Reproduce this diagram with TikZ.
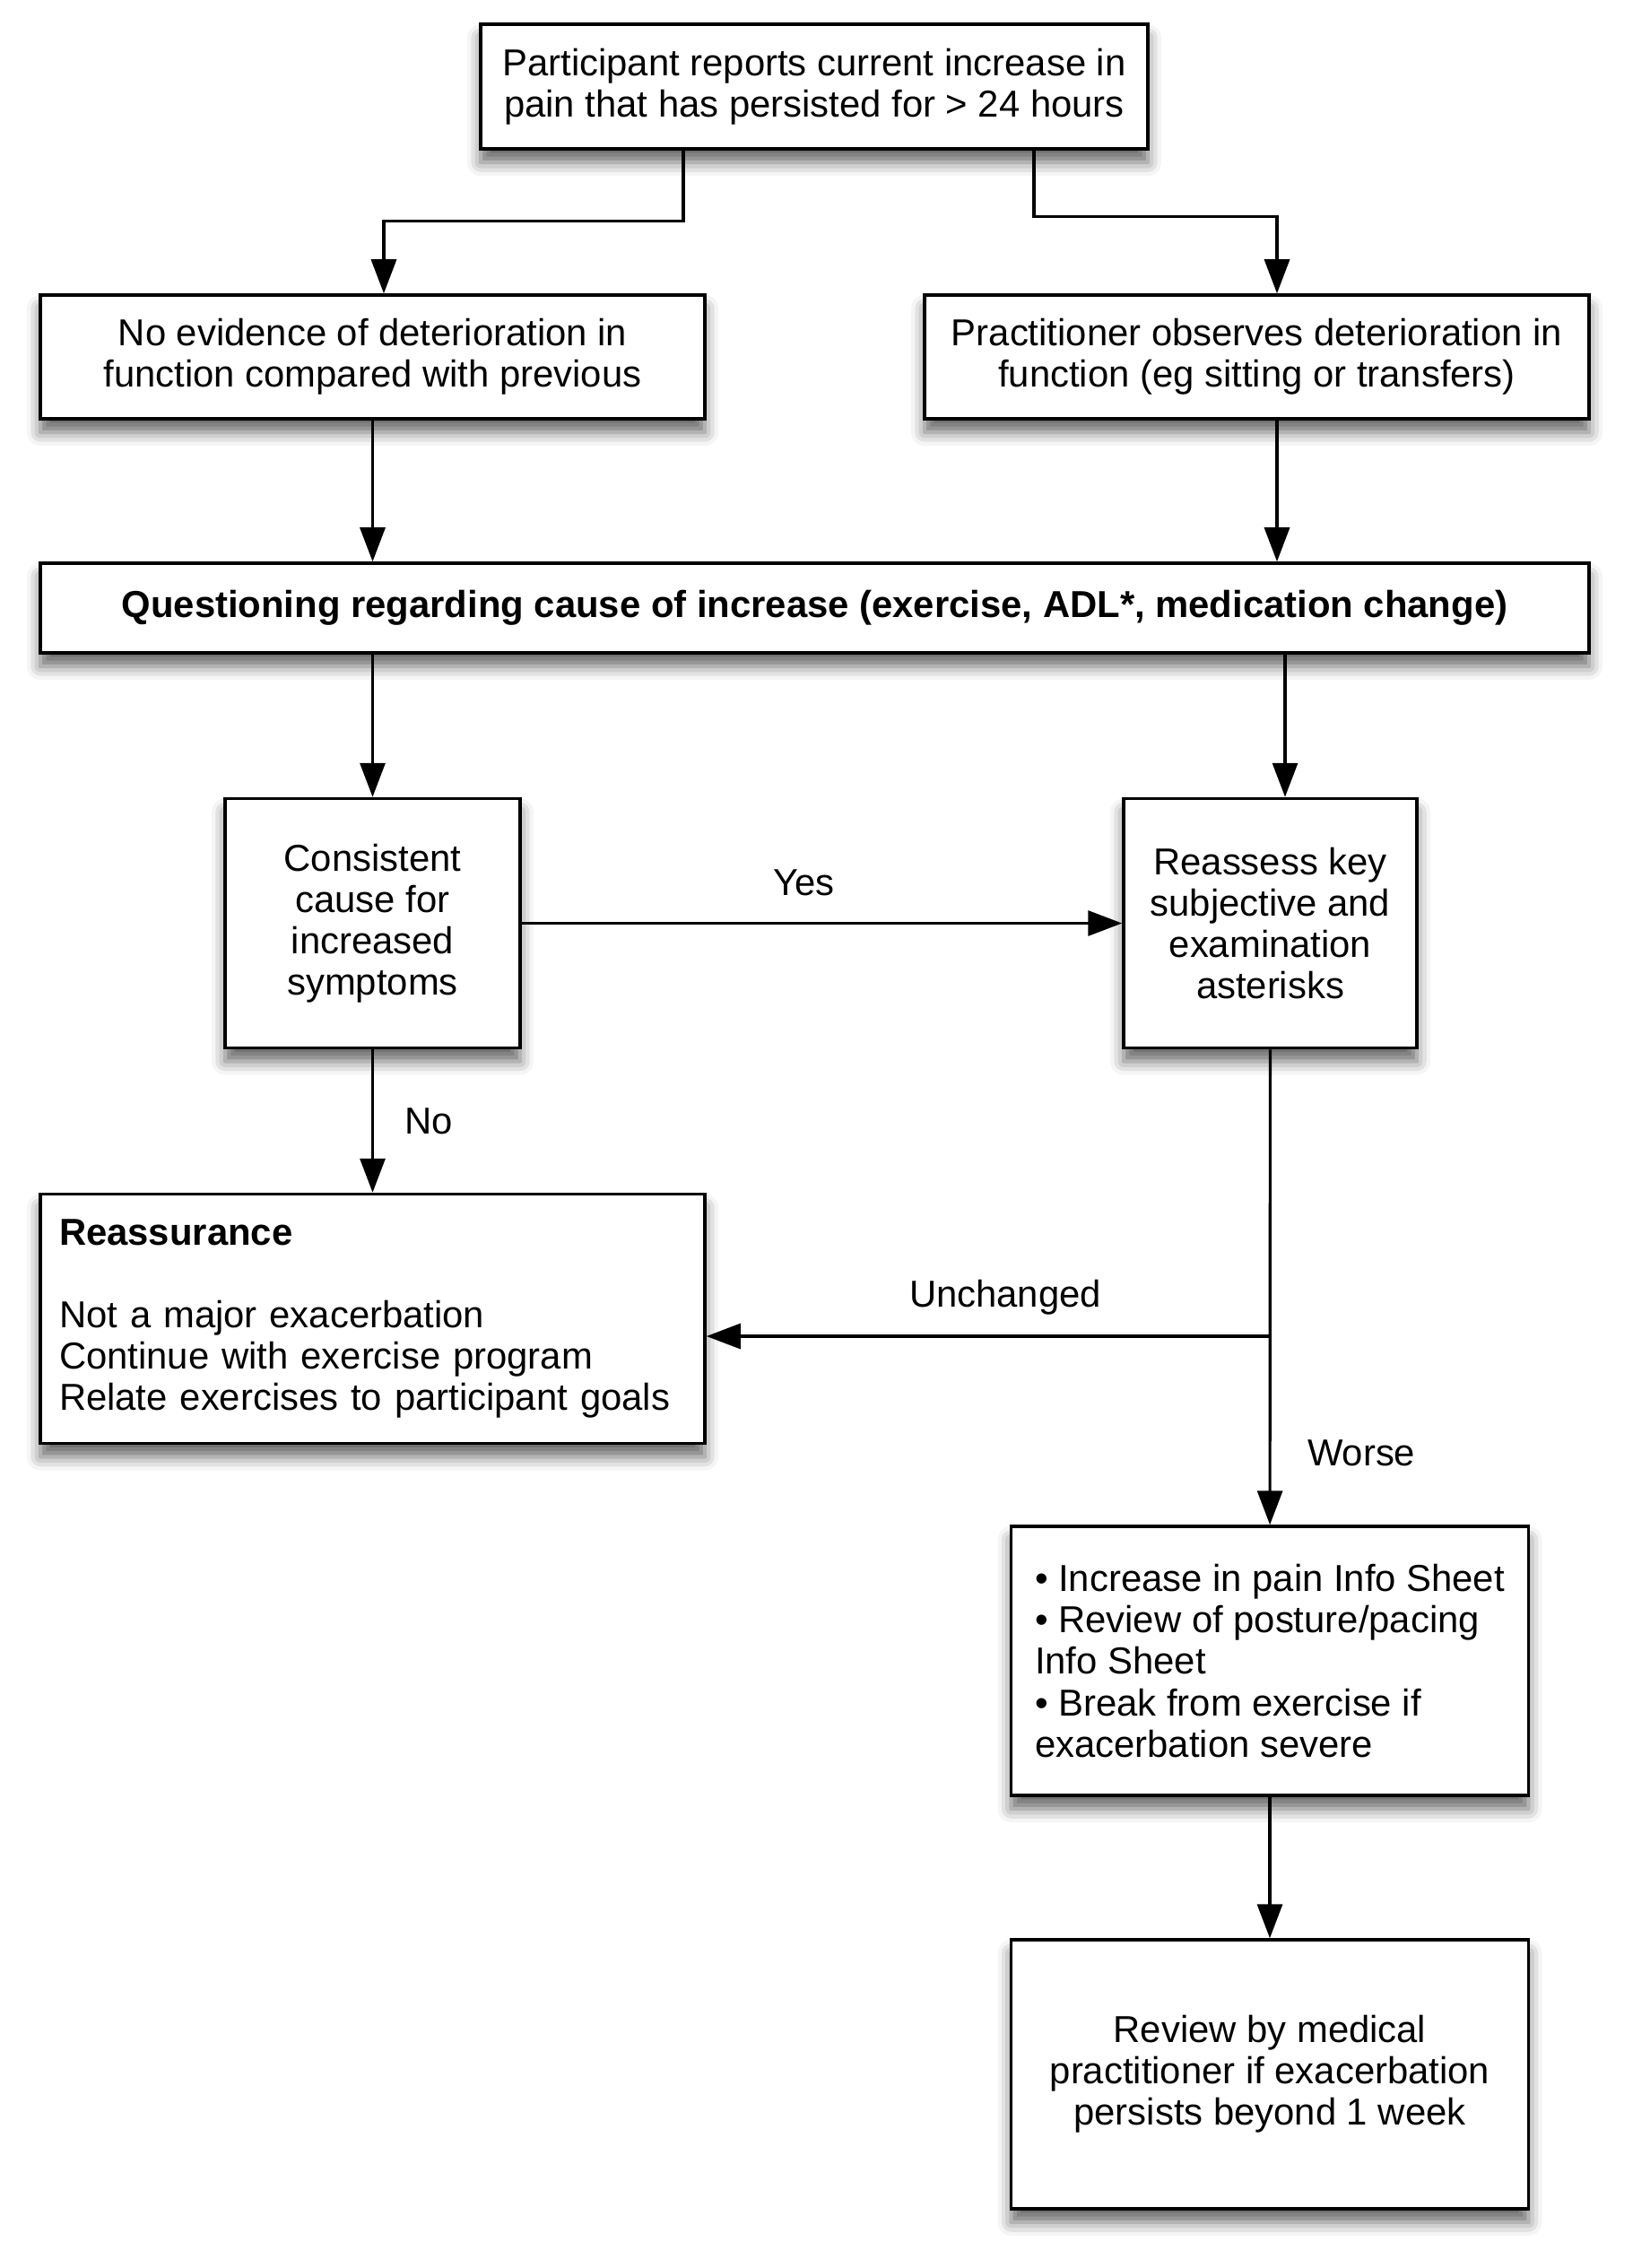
\documentclass[tikz,border=0pt]{standalone}
\usepackage{fontspec}
\setmainfont{Liberation Sans}
\usetikzlibrary{arrows.meta,shadows.blur}

\begin{document}
\begin{tikzpicture}[
	box/.style={rectangle, draw, line width=1pt, fill=white, inner sep=0pt,
		blur shadow={shadow xshift=0mm, shadow yshift=-1.5mm, shadow blur radius=1.5mm, shadow opacity=60},
		font=\fontsize{11.9}{13.1}\selectfont, align=center},
	arr/.style={-{Triangle[length=3.8mm,width=2.8mm]}, line width=0.9pt},
	lbl/.style={font=\fontsize{11.9}{13.1}\selectfont}]
	\useasboundingbox (0,0) rectangle (18.2,-25.29);
	\node (report) at (9.08,-0.966) [box, minimum width=7.44cm, minimum height=1.39cm] {Participant reports current increase in\\pain that has persisted for > 24 hours};
		\node (noevid) at (4.155,-3.98) [box, minimum width=7.41cm, minimum height=1.38cm] {No evidence of deterioration in\\function compared with previous};
		\node (observes) at (14.015,-3.98) [box, minimum width=7.41cm, minimum height=1.38cm] {Practitioner observes deterioration in\\function (eg sitting or transfers)};
	\node (question) at (9.085,-6.78) [box, minimum width=17.27cm, minimum height=1.0cm] {\textbf{Questioning regarding cause of increase (exercise, ADL*, medication change)}};
		\node (consistent) at (4.155,-10.295) [box, minimum width=3.29cm, minimum height=2.78cm] {Consistent\\cause for\\increased\\symptoms};
		\node (reassess) at (14.165,-10.295) [box, minimum width=3.27cm, minimum height=2.78cm] {Reassess key\\subjective and\\examination\\asterisks};
	\node (reassure) at (4.155,-14.705) [box, minimum width=7.41cm, minimum height=2.78cm, text width=6.99cm, align=left] {\textbf{Reassurance}\\[4.6mm]Not a major exacerbation\\Continue with exercise program\\Relate exercises to participant goals};
		\node (info) at (14.16,-18.52) [box, minimum width=5.77cm, minimum height=3.0cm, align=left] {\textbullet{} Increase in pain Info Sheet\\\textbullet{} Review of posture/pacing\\Info Sheet\\\textbullet{} Break from exercise if\\exacerbation severe};
		\node (review) at (14.16,-23.13) [box, minimum width=5.77cm, minimum height=3.0cm] {Review by medical\\practitioner if exacerbation\\persists beyond 1 week};
	\coordinate (split) at (reassess.south |- 0,-14.90);
	\draw[arr] ([xshift=-14.6mm]report.south) -- ++(0,-0.79) -| ([xshift=1.25mm]noevid.north);
	\draw[arr] ([xshift=24.5mm]report.south) -- ++(0,-0.74) -| ([xshift=2.25mm]observes.north);
	\draw[arr] (noevid) -- (noevid |- question.north);
	\draw[arr] ([xshift=2.25mm]observes.south) -- ([xshift=2.25mm]observes.south |- question.north);
	\draw[arr] (consistent.north |- question.south) -- (consistent.north);
	\draw[arr] ([xshift=1.65mm]reassess.north |- question.south) -- ([xshift=1.65mm]reassess.north);
	\draw[arr] (consistent) -- (reassess) node[lbl, pos=0.47, yshift=4.5mm] {Yes};
	\draw[arr] (consistent) -- (reassure) node[lbl, midway, xshift=6.3mm] {No};
	\draw[arr] (reassess) -- (info) node[lbl, pos=0.85, xshift=10.2mm] {Worse};
	\draw[arr] (split) -- (reassure.east |- split) node[lbl, pos=0.47, yshift=4.3mm] {Unchanged};
	\draw[arr] (info) -- (review);
\end{tikzpicture}
\end{document}
